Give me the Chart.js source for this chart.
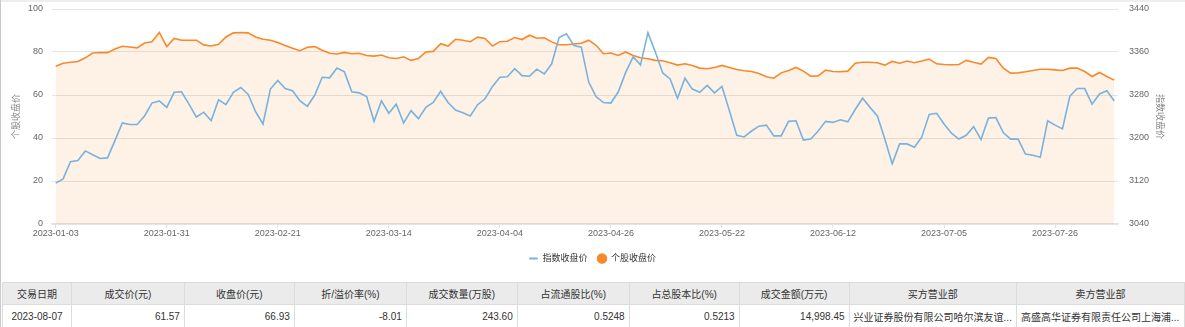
<!DOCTYPE html>
<html lang="zh-CN">
<head>
<meta charset="utf-8">
<title>大宗交易 - 收盘价走势</title>
<script src="https://cdn.jsdelivr.net/npm/chart.js@4.4.1/dist/chart.umd.min.js"></script>
<style>
  html, body { margin: 0; padding: 0; background: #fff; }
  body { width: 1185px; height: 327px; overflow: hidden; position: relative;
         font-family: "Liberation Sans", "Noto Sans CJK SC", sans-serif; }
  .topline { position: absolute; left: 0; top: 0; width: 1185px; height: 2px; background: #eeeeee; }
  .leftline { position: absolute; left: 0; top: 0; width: 1px; height: 327px; background: #c9c9c9; }
  #grafico { position: absolute; left: 0; top: 0; }
  table { position: absolute; left: 2px; top: 282px; border-collapse: collapse; table-layout: fixed;
          font-size: 10px; color: #333; }
  th, td { border: 1px solid #dcdcdc; padding: 0 4px; white-space: nowrap; overflow: hidden; }
  th { background: #ebebeb; height: 21px; font-weight: normal; text-align: center; }
  td { height: 22px; text-align: right; }
  td.c { text-align: center; }
  td.l { text-align: left; }
</style>
</head>
<body>
<div class="topline"></div>
<div class="leftline"></div>
<canvas id="grafico" width="1185" height="273"></canvas>

<table>
  <colgroup>
    <col style="width:69px"><col style="width:113px"><col style="width:110px"><col style="width:112px">
    <col style="width:111px"><col style="width:112px"><col style="width:110px"><col style="width:110px">
    <col style="width:165px"><col style="width:168px">
  </colgroup>
  <tr>
    <th>交易日期</th><th>成交价(元)</th><th>收盘价(元)</th><th>折/溢价率(%)</th><th>成交数量(万股)</th>
    <th>占流通股比(%)</th><th>占总股本比(%)</th><th>成交金额(万元)</th><th>买方营业部</th><th>卖方营业部</th>
  </tr>
  <tr>
    <td class="c">2023-08-07</td><td>61.57</td><td>66.93</td><td>-8.01</td><td>243.60</td>
    <td>0.5248</td><td>0.5213</td><td>14,998.45</td>
    <td class="l">兴业证券股份有限公司哈尔滨友谊...</td><td class="l">高盛高华证券有限责任公司上海浦...</td>
  </tr>
</table>

<script>
// dias de negociacao (eixo x)
const datas = [
  "2023-01-03","2023-01-04","2023-01-05","2023-01-06","2023-01-09","2023-01-10","2023-01-11","2023-01-12",
  "2023-01-13","2023-01-16","2023-01-17","2023-01-18","2023-01-19","2023-01-20","2023-01-30","2023-01-31",
  "2023-02-01","2023-02-02","2023-02-03","2023-02-06","2023-02-07","2023-02-08","2023-02-09","2023-02-10",
  "2023-02-13","2023-02-14","2023-02-15","2023-02-16","2023-02-17","2023-02-20","2023-02-21","2023-02-22",
  "2023-02-23","2023-02-24","2023-02-27","2023-02-28","2023-03-01","2023-03-02","2023-03-03","2023-03-06",
  "2023-03-07","2023-03-08","2023-03-09","2023-03-10","2023-03-13","2023-03-14","2023-03-15","2023-03-16",
  "2023-03-17","2023-03-20","2023-03-21","2023-03-22","2023-03-23","2023-03-24","2023-03-27","2023-03-28",
  "2023-03-29","2023-03-30","2023-03-31","2023-04-03","2023-04-04","2023-04-06","2023-04-07","2023-04-10",
  "2023-04-11","2023-04-12","2023-04-13","2023-04-14","2023-04-17","2023-04-18","2023-04-19","2023-04-20",
  "2023-04-21","2023-04-24","2023-04-25","2023-04-26","2023-04-27","2023-04-28","2023-05-04","2023-05-05",
  "2023-05-08","2023-05-09","2023-05-10","2023-05-11","2023-05-12","2023-05-15","2023-05-16","2023-05-17",
  "2023-05-18","2023-05-19","2023-05-22","2023-05-23","2023-05-24","2023-05-25","2023-05-26","2023-05-29",
  "2023-05-30","2023-05-31","2023-06-01","2023-06-02","2023-06-05","2023-06-06","2023-06-07","2023-06-08",
  "2023-06-09","2023-06-12","2023-06-13","2023-06-14","2023-06-15","2023-06-16","2023-06-19","2023-06-20",
  "2023-06-21","2023-06-26","2023-06-27","2023-06-28","2023-06-29","2023-06-30","2023-07-03","2023-07-04",
  "2023-07-05","2023-07-06","2023-07-07","2023-07-10","2023-07-11","2023-07-12","2023-07-13","2023-07-14",
  "2023-07-17","2023-07-18","2023-07-19","2023-07-20","2023-07-21","2023-07-24","2023-07-25","2023-07-26",
  "2023-07-27","2023-07-28","2023-07-31","2023-08-01","2023-08-02","2023-08-03","2023-08-04","2023-08-07"
];

// 指数收盘价 (eixo direito)
const indiceFechamento = [
  3116, 3124, 3156, 3158, 3176, 3169, 3162, 3163, 3195, 3228, 3225, 3225, 3241, 3265, 3269, 3257,
  3285, 3286, 3263, 3239, 3248, 3232, 3271, 3262, 3285, 3294, 3281, 3249, 3226, 3291, 3307, 3292,
  3288, 3269, 3259, 3280, 3313, 3312, 3330, 3323, 3286, 3284, 3277, 3231, 3269, 3246, 3263, 3228,
  3251, 3236, 3257, 3266, 3287, 3266, 3252, 3247, 3241, 3262, 3273, 3296, 3313, 3314, 3329, 3316,
  3315, 3328, 3319, 3338, 3387, 3394, 3372, 3369, 3304, 3277, 3266, 3265, 3286, 3322, 3351, 3336,
  3396, 3360, 3321, 3310, 3274, 3311, 3291, 3285, 3298, 3284, 3296, 3251, 3205, 3202, 3213, 3222,
  3224, 3204, 3204, 3231, 3232, 3196, 3198, 3213, 3231, 3229, 3234, 3230, 3253, 3274, 3257, 3241,
  3198, 3152, 3189, 3189, 3183, 3202, 3244, 3246, 3226, 3209, 3198, 3205, 3221, 3197, 3237, 3238,
  3210, 3198, 3198, 3170, 3168, 3164, 3232, 3224, 3217, 3278, 3292, 3292, 3263, 3282, 3288, 3269
];

// 个股收盘价 (eixo esquerdo)
const acaoFechamento = [
  73.4, 74.8, 75.2, 75.6, 77.3, 79.5, 79.8, 79.7, 81.4, 82.7, 82.3, 81.9, 84.2, 84.8, 89.1, 82.5,
  86.3, 85.5, 85.5, 85.5, 83.3, 82.8, 83.6, 87.0, 88.9, 89.1, 88.9, 87.0, 85.9, 85.5, 84.4, 83.0,
  81.7, 80.6, 82.2, 82.5, 80.8, 79.4, 79.1, 79.8, 79.2, 79.4, 78.4, 78.1, 78.6, 77.3, 77.0, 77.8,
  76.1, 77.0, 80.0, 80.3, 83.9, 82.8, 85.9, 85.5, 84.8, 86.9, 86.3, 82.8, 84.8, 85.0, 86.7, 85.8,
  87.8, 86.4, 86.6, 84.7, 83.4, 83.4, 83.75, 84.1, 85.5, 83.1, 79.2, 79.5, 78.4, 80.0, 78.4, 77.3,
  76.9, 76.1, 75.9, 75.0, 73.9, 74.5, 73.75, 72.5, 72.2, 72.8, 73.75, 72.8, 71.9, 71.25, 70.9, 70.0,
  68.5, 67.8, 70.3, 71.4, 72.8, 71.1, 68.75, 68.9, 71.6, 70.9, 70.8, 71.1, 74.8, 75.2, 75.2, 75.0,
  73.9, 75.6, 74.8, 75.8, 75.0, 75.8, 76.7, 74.5, 74.2, 74.1, 74.2, 76.1, 75.2, 74.4, 77.5, 77.0,
  72.5, 70.2, 70.3, 70.8, 71.4, 72.0, 72.0, 71.7, 71.4, 72.5, 72.5, 70.9, 68.6, 70.5, 68.6, 66.93
];

const corAzul = "#78b3df";
const corLaranja = "#f7892c";

Chart.defaults.font.family = "'Liberation Sans', 'Noto Sans CJK SC', sans-serif";
Chart.defaults.font.size = 9;
Chart.defaults.color = "#666";

// largura fixa dos eixos y, sem a folga extra do rotulo do topo
function fixarEixoY(largura) {
  return (scale) => {
    scale.width = largura;
    scale.paddingTop = 0;
    scale.paddingBottom = 0;
  };
}

const ctx = document.getElementById("grafico").getContext("2d");

let chart = new Chart(ctx, {
  type: "line",
  data: {
    labels: datas,
    datasets: [
      {
        label: "指数收盘价",
        data: indiceFechamento,
        yAxisID: "yIndice",
        borderColor: corAzul,
        backgroundColor: corAzul,
        borderWidth: 1.6,
        pointRadius: 0,
        pointStyle: "line",
        tension: 0,
        fill: false,
      },
      {
        label: "个股收盘价",
        data: acaoFechamento,
        yAxisID: "yAcao",
        borderColor: corLaranja,
        backgroundColor: "rgba(247, 137, 44, 0.12)",
        borderWidth: 1.6,
        pointRadius: 0,
        pointStyle: "circle",
        tension: 0,
        fill: "origin",
      },
    ],
  },
  options: {
    responsive: false,
    animation: false,
    devicePixelRatio: 1,
    layout: { padding: { top: 9, bottom: 0 } },
    plugins: {
      filler: { drawTime: "beforeDatasetsDraw" },
      tooltip: { enabled: false },
      legend: {
        position: "bottom",
        labels: {
          color: "#333",
          usePointStyle: true,
          boxHeight: 6,
          padding: 10,
          generateLabels: (c) =>
            c.data.datasets.map((ds, i) => ({
              text: ds.label,
              datasetIndex: i,
              fillStyle: ds.borderColor,
              strokeStyle: ds.borderColor,
              lineWidth: 2,
              pointStyle: ds.pointStyle,
              fontColor: "#333",
            })),
        },
      },
    },
    scales: {
      x: {
        offset: true,
        grid: {
          offset: false,
          drawOnChartArea: false,
          drawTicks: true,
          tickLength: 4,
          color: "#dfe3ec",
        },
        border: { display: true, color: "#dfe3ec", width: 1.5 },
        ticks: {
          autoSkip: false,
          maxRotation: 0,
          minRotation: 0,
          padding: 0,
          color: "#666",
          callback: function (value, index) {
            return index % 15 === 0 ? this.getLabelForValue(value) : null;
          },
        },
        afterFit: (scale) => { scale.height = 20; },
      },
      yAcao: {
        position: "left",
        min: 0,
        max: 100,
        ticks: { stepSize: 20, padding: 9, color: "#666" },
        grid: { color: "#e4e4e4", drawTicks: false },
        border: { display: false },
        title: { display: true, text: "个股收盘价", color: "#888", padding: { top: 11, bottom: 0 } },
        afterFit: fixarEixoY(52),
      },
      yIndice: {
        position: "right",
        min: 3040,
        max: 3440,
        ticks: { stepSize: 80, padding: 11, color: "#666", callback: (v) => String(v) },
        grid: { drawOnChartArea: false, drawTicks: false },
        border: { display: false },
        title: { display: true, text: "指数收盘价", color: "#888", padding: { top: 20, bottom: 0 } },
        afterFit: fixarEixoY(67),
      },
    },
  },
});
</script>
</body>
</html>
